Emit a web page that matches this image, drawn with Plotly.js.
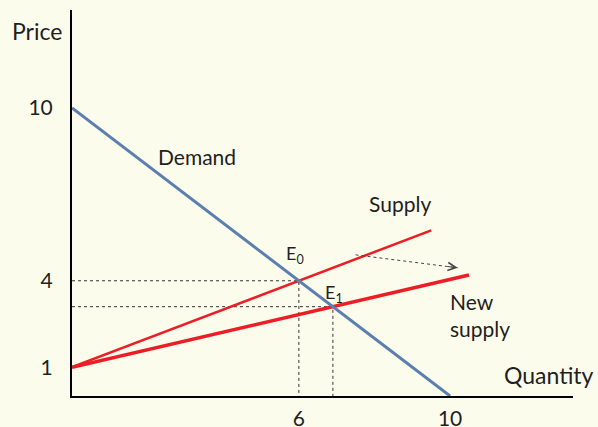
<!DOCTYPE html>
<html>
<head>
<meta charset="utf-8">
<script src="https://cdn.plot.ly/plotly-3.0.1.min.js"></script>
<style>html,body{margin:0;padding:0;background:#fcfcec;}#chart{width:598px;height:427px;}</style>
</head>
<body>
<div id="chart"></div>
<script>
// Data
const demandQ = [0, 10];
const demandP = [10, 0];
const supplyQ = [0, 6, 9.5];
const supplyP = [1, 4, 5.75];
const newSupplyQ = [0, 6.9, 10.5];
const newSupplyP = [1, 3.1, 4.2];
const eqNames = ["E<sub>0</sub>", "E<sub>1</sub>"];
const eqQ = [6, 6.9];
const eqP = [4, 3.1];
const xTickVals = [6, 10];
const xTickText = ["6", "10"];
const yTickVals = [1, 4, 10];
const yTickText = ["1", "4", "10"];
const shiftFrom = [7.5, 4.9];
const shiftTo = [10.2, 4.45];

const FONT = "Lato, 'Open Sans', sans-serif";
const TXT = "#1f1f1f";

const traces = [];
// dashed guides from equilibrium points
for (let i = 0; i < eqQ.length; i++) {
  traces.push({
    x: [0, eqQ[i], eqQ[i]], y: [eqP[i], eqP[i], 0],
    mode: "lines", line: {color: "#333", width: 1, dash: "3px,3px"},
    hoverinfo: "skip", showlegend: false
  });
}
traces.push({x: supplyQ, y: supplyP, mode: "lines", line: {color: "#ee1c24", width: 2.5}, showlegend: false, name: "Supply"});
traces.push({x: newSupplyQ, y: newSupplyP, mode: "lines", line: {color: "#ee1c24", width: 3.5}, showlegend: false, name: "New supply"});
traces.push({x: demandQ, y: demandP, mode: "lines", line: {color: "#5b7fae", width: 3}, showlegend: false, name: "Demand"});

const annotations = [
  {x: 3.31, y: 8.3, text: "Demand", showarrow: false, font: {size: 21}},
  {x: 8.68, y: 6.7, text: "Supply", showarrow: false, font: {size: 21}},
  {x: eqQ[0] - 0.1, y: eqP[0] + 0.9, text: eqNames[0], showarrow: false, font: {size: 18}},
  {x: eqQ[1] + 0.02, y: eqP[1] + 0.45, text: eqNames[1], showarrow: false, font: {size: 18}},
  {x: 9.95, y: 3.8, text: "New<br>supply", showarrow: false, xanchor: "left", yanchor: "top", align: "left", font: {size: 21}},
  {xref: "paper", yref: "paper", x: -0.07, y: 0.946, text: "Price", showarrow: false, xanchor: "center", yanchor: "middle", font: {size: 23}},
  {xref: "paper", yref: "paper", x: 0.952, y: 0.054, text: "Quantity", showarrow: false, xanchor: "center", yanchor: "middle", font: {size: 23}},
  {x: shiftTo[0], y: shiftTo[1], ax: shiftTo[0] - 0.3, ay: shiftTo[1] + 0.05, axref: "x", ayref: "y",
   text: "", showarrow: true, arrowhead: 5, arrowsize: 1.6, arrowwidth: 1, arrowcolor: "#444"}
];

const shapes = [
  {type: "line", x0: shiftFrom[0], y0: shiftFrom[1], x1: shiftTo[0], y1: shiftTo[1],
   line: {color: "#444", width: 1, dash: "3px,3px"}}
];

const layout = {
  width: 598, height: 427,
  margin: {l: 72, r: 25, t: 10, b: 31},
  paper_bgcolor: "#fcfcec", plot_bgcolor: "#fcfcec",
  font: {family: FONT, color: TXT},
  xaxis: {range: [0, 13.25], showgrid: false, zeroline: false, showline: true, linecolor: "#000", linewidth: 2,
          tickvals: xTickVals, ticktext: xTickText, ticks: "", ticklabelstandoff: 3, tickfont: {size: 21, color: TXT}},
  yaxis: {range: [0, 13.4], showgrid: false, zeroline: false, showline: true, linecolor: "#000", linewidth: 2,
          tickvals: yTickVals, ticktext: yTickText, ticks: "", ticklabelstandoff: 13, tickfont: {size: 21, color: TXT}},
  annotations: annotations, shapes: shapes, showlegend: false
};

Plotly.newPlot("chart", traces, layout, {displayModeBar: false, staticPlot: true});
</script>
</body>
</html>
